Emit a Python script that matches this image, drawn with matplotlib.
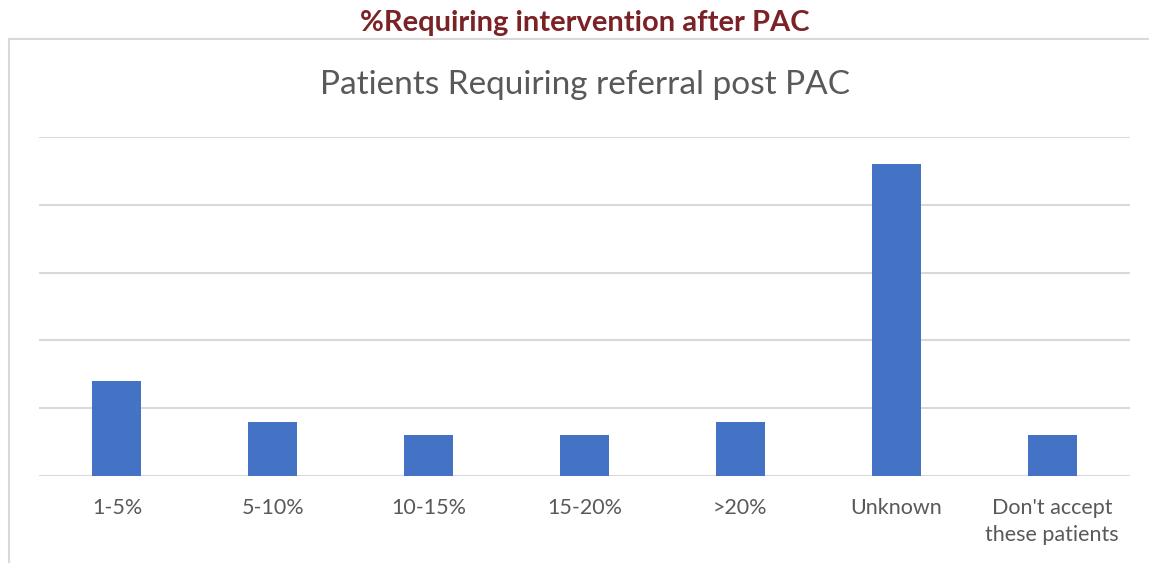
import matplotlib
matplotlib.use("Agg")
import matplotlib.pyplot as plt
from matplotlib.patches import Rectangle

categories = ["1-5%", "5-10%", "10-15%", "15-20%", ">20%", "Unknown", "Don't accept\nthese patients"]
values = [7, 4, 3, 3, 4, 23, 3]
yticks = [0, 5, 10, 15, 20, 25]

plt.rcParams['font.family'] = ['Lato', 'DejaVu Sans']

W, H = 1149, 563
fig = plt.figure(figsize=(W/100, H/100), dpi=100)
fig.patch.set_facecolor('white')

# outer chart border
fig.patches.append(Rectangle((9/W, -0.1), 1.2, 1 - 39/H + 0.1, transform=fig.transFigure,
                             fill=False, edgecolor='#D9D9D9', linewidth=1.5))

fig.text(585/W, 1 - 23/H, "%Requiring intervention after PAC", ha='center', va='center',
         fontsize=21, fontweight='bold', color='#7B2226')

ax = fig.add_axes([39/W, 1 - 476/H, (1130-39)/W, (476-137)/H])
x = list(range(len(categories)))
ax.bar(x, values, width=0.315, color='#4472C4', zorder=3)
ax.set_xlim(-0.5, len(categories) - 0.5)
ax.set_ylim(0, 25)
ax.set_yticks(yticks)
ax.yaxis.grid(True, color='#D9D9D9', linewidth=1.5, zorder=0)
ax.tick_params(axis='y', left=False, labelleft=False)
ax.tick_params(axis='x', length=0, pad=16)
ax.set_xticks(x)
ax.set_xticklabels(categories, fontsize=15.5, color='#595959', linespacing=1.45)
for s in ax.spines.values():
    s.set_visible(False)

fig.text(585/W, 1 - 85/H, "Patients Requiring referral post PAC", ha='center', va='center',
         fontsize=24, color='#595959')

fig.savefig("out.png", dpi=100, facecolor='white')
